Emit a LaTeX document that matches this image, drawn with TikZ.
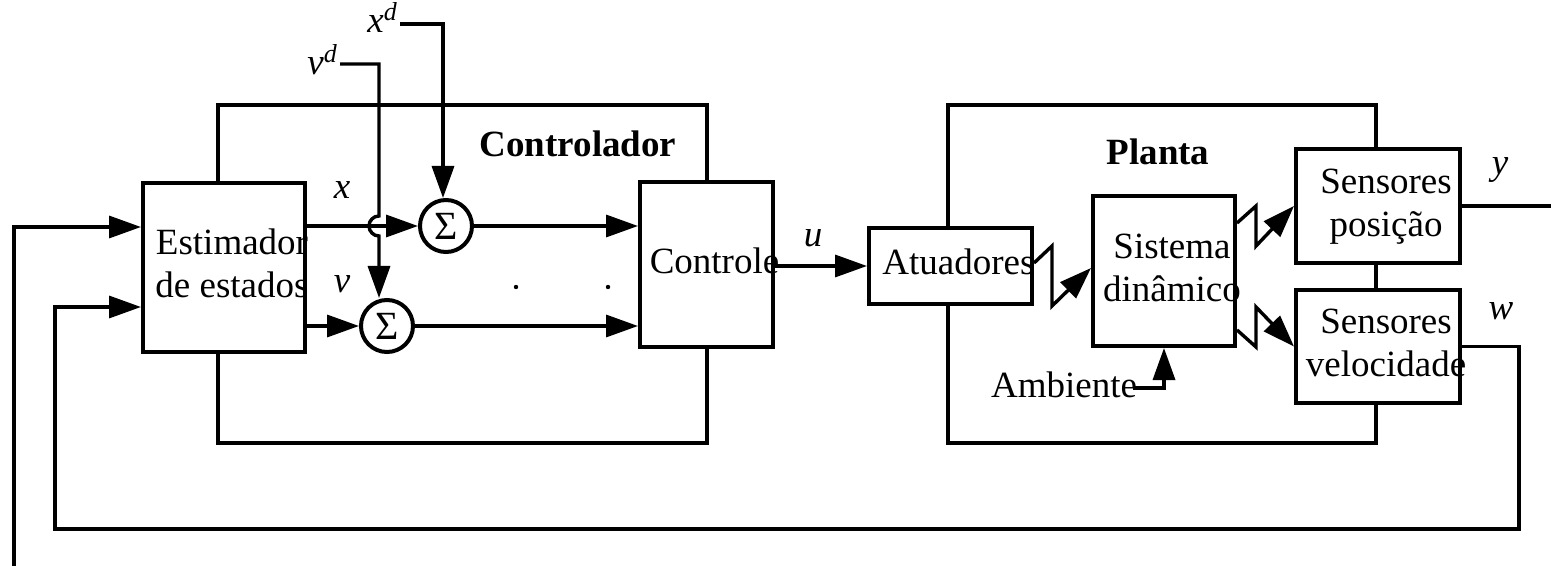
\documentclass[tikz,border=0pt]{standalone}
\usepackage{fontspec}
\setmainfont{Liberation Serif}
\usetikzlibrary{arrows.meta,calc}
\newcommand\ov[1]{\makebox[0pt]{\hspace{8pt}\begin{tabular}{@{}c@{}}#1\end{tabular}}}
\begin{document}
\begin{tikzpicture}[x=0.5pt,y=-0.5pt,
  font=\fontsize{18.5}{21.5}\selectfont,
  box/.style={draw, line width=2pt, inner sep=0pt},
  sumc/.style={draw, circle, line width=2pt, inner sep=0pt, minimum size=26pt, font=\fontsize{20}{22}\selectfont},
  lbl/.style={inner sep=0pt, font=\fontsize{18.5}{21.5}\selectfont\itshape},
  ln/.style={line width=1.7pt},
  arr/.style={line width=1.7pt, -{Triangle[length=16pt,width=11pt]}},
  frame/.style={line width=2pt}]
\useasboundingbox (0,0) rectangle (1551,566);

% blocks
\node[box, minimum width=81pt, minimum height=84.5pt] (est) at (224,267.5) {\ov{Estimador\\de estados}};
\node[box, minimum width=66.5pt, minimum height=82.5pt] (ctl) at (706.5,264.5) {\ov{Controle}};
\node[box, minimum width=81.5pt, minimum height=38pt] (atu) at (950.5,266) {\ov{Atuadores}};
\node[box, minimum width=71pt, minimum height=75pt] (sis) at (1164,271) {\ov{Sistema\\dinâmico}};
\node[box, minimum width=82pt, minimum height=57pt] (sp) at (1378,206) {\ov{Sensores\\posição}};
\node[box, minimum width=82pt, minimum height=56.5pt] (sv) at (1378,346.5) {\ov{Sensores\\velocidade}};
\node[sumc] (s1) at (446,226) {Σ};
\node[sumc] (s2) at (387,326) {Σ};

% labels
\node[anchor=base, inner sep=0pt, font=\fontsize{18.5}{21.5}\selectfont\bfseries] (lctl) at (578,157) {Controlador};
\node[anchor=base, inner sep=0pt, font=\fontsize{18.5}{21.5}\selectfont\bfseries] (lpl) at (1158,165) {Planta};
\node[anchor=base, inner sep=0pt] (lamb) at (1064,397) {Ambiente};
\node[lbl] (lx) at (342,190) {x};
\node[lbl] (lv) at (342,284) {v};
\node[lbl] (lu) at (813,238) {u};
\node[lbl] (ly) at (1500,170) {y};
\node[lbl] (lw) at (1501,311) {w};
\node[lbl, anchor=base west] (lxd) at (367,33) {x\textsuperscript{d}};
\node[lbl, anchor=base west] (lvd) at (307,75) {v\textsuperscript{d}};

% coordinates
\coordinate (xds) at (400,24);
\coordinate (xdc) at (443,24);
\coordinate (vds) at (340,64);
\coordinate (vdc) at (379,64);
\coordinate (c1) at (218,105);
\coordinate (c2) at (707,105);
\coordinate (c3) at (218,443);
\coordinate (c4) at (707,443);
\coordinate (p1) at (948,105);
\coordinate (p2) at (1376,105);
\coordinate (p3) at (948,443);
\coordinate (p4) at (1376,443);
\coordinate (yo) at (1551,206);
\coordinate (wc) at (1519,529);
\coordinate (fbi) at (55,529);
\coordinate (fbo) at (14,566);
\coordinate (ambe) at (1133,388);

% frames
\draw[frame] (est.north -| c1) -- (c1) -- (c2) -- (ctl.north -| c2);
\draw[frame] (est.south -| c1) -- (c3) -- (c4) -- (ctl.south -| c2);
\draw[frame] (atu.north -| p1) -- (p1) -- (p2) -- (sp.north -| p2);
\draw[frame] (sp.south -| p2) -- (sv.north -| p2);
\draw[frame] (atu.south -| p1) -- (p3) -- (p4) -- (sv.south -| p2);

% references
\draw[arr] (xds) -- (xdc) -- (s1.north -| xdc);
\draw[arr] (vds) -- (vdc) -- (379,216) arc[start angle=270, end angle=90, radius=10] -- (s2.north -| vdc);

% controller signals
\draw[arr] (est.east |- s1.west) -- (s1.west);
\draw[arr] (est.east |- s2.west) -- (s2.west);
\draw[arr] (s1.east) -- (ctl.west |- s1.east);
\draw[arr] (s2.east) -- (ctl.west |- s2.east);
\fill (516,287) circle[radius=2.2];
\fill (608,287) circle[radius=2.2];
\draw[arr] (ctl.east |- atu.west) -- (atu.west);

% plant
\draw[arr] ($(atu.east)+(0,-3)$) -- (1052,246) -- (1052,306) -- ($(sis.west)+(0,-3)$);
\draw[arr] ($(sis.east)+(0,-48)$) -- (1256,206) -- (1256,246) -- (sp.west);
\draw[arr] ($(sis.east)+(0,59)$) -- (1256,347) -- (1256,307) -- (sv.west);
\draw[arr] (ambe) -| (sis.south);

% outputs and feedback
\draw[ln] (sp.east) -- (yo);
\draw[arr] (sv.east) -| (wc) -- (fbi) |- ($(est.west)+(0,39.5)$);
\draw[arr] (fbo) |- ($(est.west)+(0,-40.5)$);
\end{tikzpicture}
\end{document}
